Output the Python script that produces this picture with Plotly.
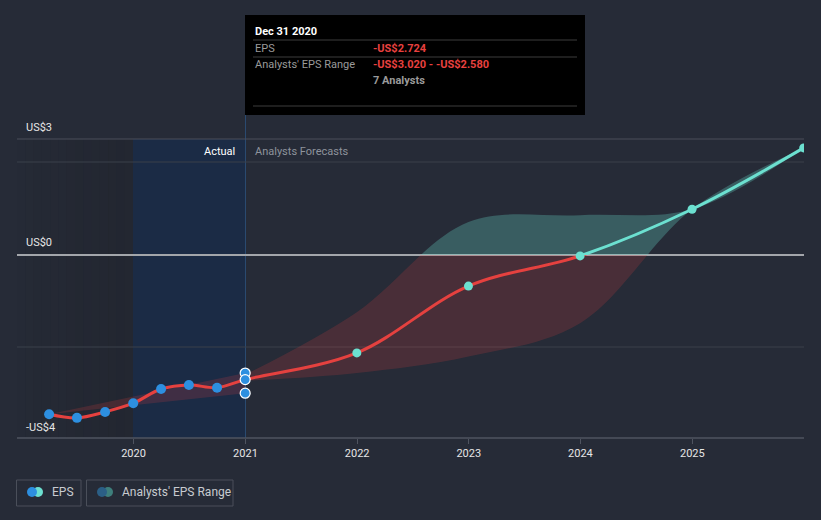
import plotly.graph_objects as go

# ---------------- data ----------------
actual_dates = ['2019-03-31', '2019-06-30', '2019-09-30', '2019-12-31',
                '2020-03-31', '2020-06-30', '2020-09-30', '2020-12-31']
actual_eps = [-3.48, -3.56, -3.43, -3.24, -2.93, -2.84, -2.90, -2.724]

forecast_dates = ['2021-12-31', '2022-12-31', '2023-12-31', '2024-12-31', '2025-12-31']
forecast_eps = [-2.14, -0.68, -0.02, 1.00, 2.34]

hist_range_dates = ['2019-03-31', '2020-12-31']
hist_range_low = [-3.48, -3.02]
hist_range_high = [-3.48, -2.58]

fc_range_dates = ['2020-12-31', '2021-12-31', '2022-12-31', '2023-12-31', '2024-12-31', '2025-12-31']
fc_range_low = [-2.75, -2.58, -2.22, -1.49, 1.00, 2.34]
fc_range_high = [-2.62, -1.25, 0.72, 0.87, 1.00, 2.34]

last_point_date = '2020-12-31'
last_point_vals = [-2.58, -2.724, -3.02]

x_ticks = ['2020-01-01', '2021-01-01', '2022-01-01', '2023-01-01', '2024-01-01', '2025-01-01']
x_tick_labels = ['2020', '2021', '2022', '2023', '2024', '2025']

# ---------------- style ----------------
W, H = 821, 520
L, R, T, B = 17, 804, 139, 438
BG = '#262b37'
RED = '#e5413f'
TEAL = '#6ce0d0'
BLUE = '#2d8fe0'
RED_FILL = 'rgba(229,65,65,0.19)'
TEAL_FILL = 'rgba(108,224,208,0.28)'
Y_MIN, Y_MAX = -4.0, 2.535
D0 = (0 - Y_MIN) / (Y_MAX - Y_MIN)
FONT = 'Roboto, Arial, sans-serif'


def px(xp):
    return (xp - L) / (R - L)


def py(yp):
    return (B - yp) / (B - T)


all_dates = actual_dates + forecast_dates
all_eps = actual_eps + forecast_eps

fig = go.Figure()

for yax, fillc, linec in (('y', RED_FILL, RED), ('y2', TEAL_FILL, TEAL)):
    # historical range band
    fig.add_trace(go.Scatter(x=hist_range_dates, y=hist_range_low, yaxis=yax, mode='lines',
                             line=dict(width=0, color=fillc), hoverinfo='skip'))
    fig.add_trace(go.Scatter(x=hist_range_dates, y=hist_range_high, yaxis=yax, mode='lines',
                             line=dict(width=0, color=fillc), fill='tonexty', fillcolor=fillc,
                             hoverinfo='skip'))
    # forecast range band
    fig.add_trace(go.Scatter(x=fc_range_dates, y=fc_range_low, yaxis=yax, mode='lines',
                             line=dict(width=0, color=fillc, shape='spline'), hoverinfo='skip'))
    fig.add_trace(go.Scatter(x=fc_range_dates, y=fc_range_high, yaxis=yax, mode='lines',
                             line=dict(width=0, color=fillc, shape='spline'), fill='tonexty',
                             fillcolor=fillc, hoverinfo='skip'))
    # EPS line
    fig.add_trace(go.Scatter(x=all_dates, y=all_eps, yaxis=yax, mode='lines',
                             line=dict(width=3, color=linec, shape='spline'), hoverinfo='skip'))

# actual markers
fig.add_trace(go.Scatter(x=actual_dates[:-1], y=actual_eps[:-1], yaxis='y', mode='markers',
                         marker=dict(size=10, color=BLUE), cliponaxis=False, hoverinfo='skip'))
fig.add_trace(go.Scatter(x=[last_point_date] * len(last_point_vals), y=last_point_vals, yaxis='y',
                         mode='markers', marker=dict(size=10, color=BLUE, line=dict(width=1.2, color='white')),
                         cliponaxis=False, hoverinfo='skip'))
# forecast markers (negative on lower axis, positive on upper axis)
neg = [(d, v) for d, v in zip(forecast_dates[:-1], forecast_eps[:-1]) if v < 0]
pos = [(d, v) for d, v in zip(forecast_dates[:-1], forecast_eps[:-1]) if v >= 0]
fig.add_trace(go.Scatter(x=[d for d, _ in neg], y=[v for _, v in neg], yaxis='y', mode='markers',
                         marker=dict(size=9, color=TEAL), cliponaxis=False, hoverinfo='skip'))
fig.add_trace(go.Scatter(x=[d for d, _ in pos], y=[v for _, v in pos], yaxis='y2', mode='markers',
                         marker=dict(size=9, color=TEAL), cliponaxis=False, hoverinfo='skip'))
fig.add_trace(go.Scatter(x=forecast_dates[-1:], y=forecast_eps[-1:], yaxis='y2', mode='markers',
                         marker=dict(size=9, color=TEAL), cliponaxis=True, hoverinfo='skip'))

shapes = []
# dark past region with gradient
n = 14
x0p, x1p = 17, 133
for i in range(n):
    a = x0p + (x1p - x0p) * i / n
    b = x0p + (x1p - x0p) * (i + 1) / n
    op = 0.02 + 0.16 * (i + 1) / n
    shapes.append(dict(type='rect', xref='paper', yref='paper', x0=px(a), x1=px(b), y0=0, y1=1,
                       fillcolor=f'rgba(20,20,22,{op:.3f})', line=dict(width=0), layer='below'))
# actual (blue) region
shapes.append(dict(type='rect', xref='paper', yref='paper', x0=px(133), x1=px(245.5), y0=0, y1=1,
                   fillcolor='#1b2b45', line=dict(width=0), layer='below'))
# cursor vertical line
shapes.append(dict(type='line', xref='paper', yref='paper', x0=px(245.5), x1=px(245.5), y0=0, y1=py(115),
                   line=dict(color='#2a4a70', width=1), layer='below'))
# gridlines
for yp, col, wd in ((139, '#4a4f5a', 1), (162, '#3b404b', 1), (347, '#3b404b', 1)):
    shapes.append(dict(type='line', xref='paper', yref='paper', x0=0, x1=1, y0=py(yp), y1=py(yp),
                       line=dict(color=col, width=wd), layer='below'))
# zero line
shapes.append(dict(type='line', xref='paper', yref='paper', x0=0, x1=1, y0=D0, y1=D0,
                   line=dict(color='#a3a6ab', width=2), layer='below'))
# bottom axis line
shapes.append(dict(type='line', xref='paper', yref='paper', x0=0, x1=1, y0=0, y1=0,
                   line=dict(color='#4f5460', width=1.5), layer='below'))

# tooltip box
shapes.append(dict(type='rect', xref='paper', yref='paper', x0=px(245), x1=px(585), y0=py(115), y1=py(15),
                   fillcolor='#000000', line=dict(width=0), layer='above'))
for yp in (40, 57, 106):
    shapes.append(dict(type='line', xref='paper', yref='paper', x0=px(253), x1=px(577), y0=py(yp), y1=py(yp),
                       line=dict(color='#3c3c3c', width=1), layer='above'))

# legend boxes
def legend_box(xa, xb):
    return dict(type='rect', xref='paper', yref='paper', x0=px(xa), x1=px(xb), y0=py(506), y1=py(480),
                fillcolor='rgba(0,0,0,0)', line=dict(color='#4a4f5a', width=1), layer='above')

shapes.append(legend_box(16.5, 81))
shapes.append(legend_box(86.5, 233))

def circle(cx, cy, r, col):
    return dict(type='circle', xref='paper', yref='paper', x0=px(cx - r), x1=px(cx + r),
                y0=py(cy + r), y1=py(cy - r), fillcolor=col, line=dict(width=0), layer='above')

shapes.append(circle(38, 492, 5, TEAL))
shapes.append(circle(32, 492, 5, BLUE))
shapes.append(circle(108, 492, 5, '#3e7f7c'))
shapes.append(circle(102, 492, 5, '#2b5f86'))

annotations = []

def txt(text, xp, yp, color, size=11, anchor='left', bold=False):
    annotations.append(dict(text=f'<b>{text}</b>' if bold else text, xref='paper', yref='paper',
                            x=px(xp), y=py(yp), xanchor=anchor, yanchor='middle', showarrow=False,
                            font=dict(family=FONT, size=size, color=color)))

# y labels
txt('US$3', 24, 127, '#e6e6e6')
txt('US$0', 24, 242, '#e6e6e6')
txt('-US$4', 24, 427, '#e6e6e6')
# region labels
txt('Actual', 237, 151, '#ffffff', anchor='right')
txt('Analysts Forecasts', 253, 151, '#8e939c')
# tooltip
txt('Dec 31 2020', 253, 31, '#ffffff', bold=True)
txt('EPS', 253, 48, '#9a9a9a')
txt('-US$2.724', 371, 48, '#e8403f', bold=True)
txt("Analysts' EPS Range", 253, 65, '#9a9a9a')
txt('-US$3.020 - -US$2.580', 371, 65, '#e8403f', bold=True)
txt('7 Analysts', 371, 81, '#9a9a9a', bold=True)
# legend labels
txt('EPS', 50, 492, '#c8cbd0', size=12)
txt("Analysts' EPS Range", 120, 492, '#c8cbd0', size=12)

fig.update_layout(
    width=W, height=H,
    margin=dict(l=L, r=W - R, t=T, b=H - B, pad=0),
    paper_bgcolor=BG, plot_bgcolor=BG,
    showlegend=False,
    font=dict(family=FONT, color='#e6e6e6', size=11),
    xaxis=dict(type='date', range=['2018-12-16', '2026-01-01'], tickvals=x_ticks, ticktext=x_tick_labels,
               showgrid=False, zeroline=False, showline=False, ticks='outside', ticklen=5,
               tickcolor='#4f5460', tickfont=dict(family=FONT, size=11, color='#e6e6e6'),
               anchor='y', fixedrange=True),
    yaxis=dict(domain=[0, D0], range=[Y_MIN, 0], showgrid=False, zeroline=False, showticklabels=False,
               showline=False, anchor='x'),
    yaxis2=dict(domain=[D0, 1], range=[0, Y_MAX], showgrid=False, zeroline=False, showticklabels=False,
                showline=False, anchor='x'),
    shapes=shapes,
    annotations=annotations,
    hovermode=False,
)

fig.write_html('out.html')
